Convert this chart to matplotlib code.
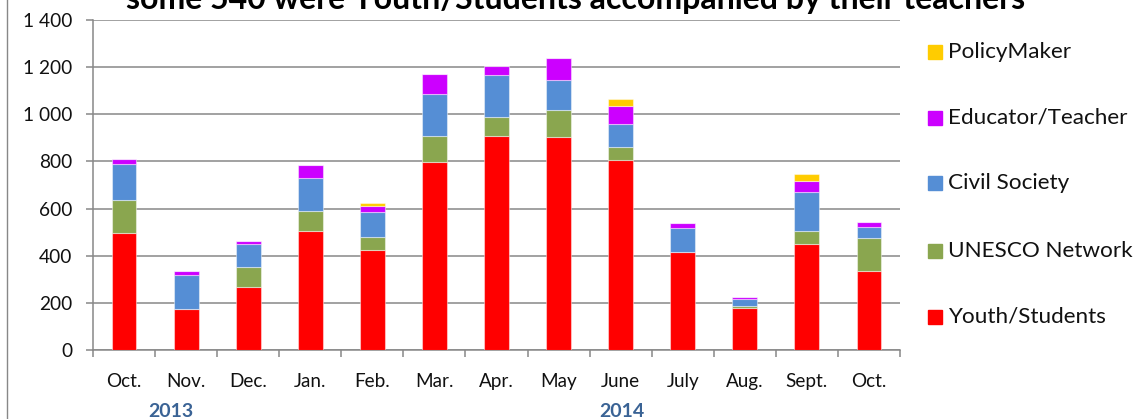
import matplotlib
matplotlib.use('Agg')
import matplotlib.pyplot as plt
import numpy as np
from matplotlib.patches import Rectangle
from matplotlib.lines import Line2D

plt.rcParams['font.family'] = ['Lato', 'DejaVu Sans']

# ---------------- data ----------------
months = ['Oct.', 'Nov.', 'Dec.', 'Jan.', 'Feb.', 'Mar.', 'Apr.', 'May',
          'June', 'July', 'Aug.', 'Sept.', 'Oct.']
youth = [495, 172, 269, 505, 424, 799, 909, 905, 805, 417, 180, 451, 337]
unesco = [141, 0, 82, 86, 54, 109, 78, 114, 55, 0, 5, 52, 140]
civil = [153, 145, 99, 137, 109, 178, 178, 126, 99, 102, 30, 169, 44]
educator = [21, 18, 11, 58, 24, 85, 39, 95, 77, 20, 10, 45, 21]
policy = [0, 0, 0, 0, 12, 0, 0, 0, 27, 0, 0, 30, 0]
series_names = ['Youth/Students', 'UNESCO Network', 'Civil Society',
                'Educator/Teacher', 'PolicyMaker']
series_colors = ['#FF0000', '#8AA64F', '#558ED5', '#CC00FF', '#FFCC00']
years = ['2013', '2014']
year_pos = [0.76, 8.02]
yticks = [0, 200, 400, 600, 800, 1000, 1200, 1400]
title = 'some 540 were Youth/Students accompanied by their teachers'

# ---------------- figure ----------------
W, H = 1135, 419
fig = plt.figure(figsize=(W / 100, H / 100), dpi=100)
ax = fig.add_axes([93 / W, 1 - 350 / H, (900 - 93) / W, (350 - 20) / H])

x = np.arange(len(months))
bottom = np.zeros(len(months))
series = [youth, unesco, civil, educator, policy]
for vals, name, col in zip(series, series_names, series_colors):
    v = np.array(vals, dtype=float)
    ax.bar(x, v, 0.40, bottom=bottom, color=col, edgecolor=(1, 1, 1, 0.45),
           linewidth=0.8, zorder=3)
    bottom += v

ax.set_xlim(-0.5, len(months) - 0.5)
ax.set_ylim(0, 1400)
ax.set_yticks(yticks)
ax.set_yticklabels([f'{v:,}'.replace(',', ' ') for v in yticks])
ax.set_xticks(x)
ax.set_xticklabels(months)
ax.set_xticks(np.arange(-0.5, len(months), 1.0), minor=True)

grid_col = '#888888'
ax.grid(axis='y', color=grid_col, linewidth=1.1, zorder=0)
for s in ['top', 'right']:
    ax.spines[s].set_visible(False)
for s in ['left', 'bottom']:
    ax.spines[s].set_color(grid_col)
    ax.spines[s].set_linewidth(1.1)

ax.tick_params(axis='y', length=5, width=1.1, color=grid_col, pad=10,
               labelsize=13.8, labelcolor='#111111')
ax.tick_params(axis='x', which='major', length=0, pad=16.5, labelsize=13.6,
               labelcolor='#111111')
ax.tick_params(axis='x', which='minor', length=5, width=1.1, color=grid_col)

# year labels
for yr, p in zip(years, year_pos):
    ax.text(p, -0.185, yr, transform=ax.get_xaxis_transform(), ha='center',
            va='center', fontsize=14, fontweight='bold', color='#3A6395')

# title (partly clipped at the top, as in the reference)
t = fig.text(576 / W, 1 - 9 / H, title, ha='center', va='baseline',
             fontsize=18, fontweight='bold', color='#000000')
fig.canvas.draw()
w = t.get_window_extent().width
t.set_fontsize(18 * 898 / w)

# legend drawn manually on the right
leg_y = [316.7, 250.7, 183.3, 117.7, 51.7]
for name, col, yy in zip(series_names, series_colors, leg_y):
    fig.add_artist(Rectangle((928 / W, 1 - (yy + 7) / H), 14 / W, 14 / H,
                             transform=fig.transFigure, color=col))
    fig.text(948 / W, 1 - yy / H, name, ha='left', va='center',
             fontsize=16.2, color='#111111')

# left frame line of the chart area
fig.add_artist(Line2D([7 / W, 7 / W], [0, 1], transform=fig.transFigure,
                      color='#888888', linewidth=1.0))

fig.savefig('out.png', dpi=100)
